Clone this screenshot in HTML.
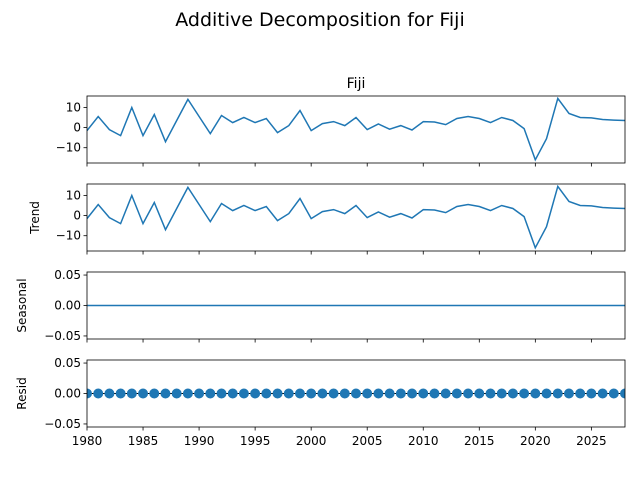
<!DOCTYPE html>
<html><head><meta charset="utf-8"><style>
body{margin:0;background:#fff}
svg text{font-family:"DejaVu Sans","Liberation Sans",sans-serif;fill:#000}
</style></head><body>
<svg id="c" width="640" height="480" xmlns="http://www.w3.org/2000/svg">
<text x="320" y="26" font-size="19" text-anchor="middle">Additive Decomposition for Fiji</text>
<text x="356" y="88" font-size="14" text-anchor="middle">Fiji</text>
</svg>
<script>
const years=[];for(let y=1980;y<=2028;y++)years.push(y);
const observed=[-1.5,5.5,-1,-4,10,-4,6.5,-7,3.5,14,5.5,-3,6,2.5,5,2.5,4.5,-2.5,1,8.5,-1.5,2,3,1,5,-1,1.8,-0.8,1,-1.2,3,2.8,1.5,4.5,5.5,4.5,2.5,5,3.5,-0.5,-16,-5.5,14.5,7,5,4.8,4,3.7,3.5];
const trend=observed.slice();
const seasonal=years.map(()=>0);
const resid=years.map(()=>0);
const xTicks=[1980,1985,1990,1995,2000,2005,2010,2015,2020,2025];
const bigTicks=[10,0,-10];
const smallTicks=[0.05,0,-0.05];
const svg=document.getElementById('c');const NS='http://www.w3.org/2000/svg';
const L=87,R=625,X0=1980,X1=2028;
const sx=v=>L+(v-X0)/(X1-X0)*(R-L);
function mk(t,a,p){const e=document.createElementNS(NS,t);for(const k in a)e.setAttribute(k,a[k]);(p||svg).appendChild(e);return e;}
const panels=[
 {name:'observed',top:96,lo:-17.6,hi:15.7,data:observed,ticks:bigTicks,fmt:v=>v<0?'\u2212'+(-v):String(v),label:null,lx:35},
 {name:'trend',top:184,lo:-17.6,hi:15.7,data:trend,ticks:bigTicks,fmt:v=>v<0?'\u2212'+(-v):String(v),label:'Trend',lx:35},
 {name:'seasonal',top:272,lo:-0.055,hi:0.055,data:seasonal,ticks:smallTicks,fmt:v=>v<0?'\u2212'+(-v).toFixed(2):v.toFixed(2),label:'Seasonal',lx:22},
 {name:'resid',top:360,lo:-0.055,hi:0.055,data:resid,ticks:smallTicks,fmt:v=>v<0?'\u2212'+(-v).toFixed(2):v.toFixed(2),label:'Resid',dots:true,lx:22}
];
const H=67;
panels.forEach((p,pi)=>{
 const g=mk('g',{});
 
 
 const sy=v=>p.top+H-(v-p.lo)/(p.hi-p.lo)*H;
 const clip=mk('clipPath',{id:'cl'+pi},g);mk('rect',{x:L,y:p.top,width:R-L,height:H},clip);
 if(p.dots){
  const z=mk('line',{x1:L,x2:R,y1:sy(0),y2:sy(0),stroke:'#000','stroke-width':1,'clip-path':'url(#cl'+pi+')'},g);
  
  
  years.forEach((y,i)=>{const c=mk('circle',{cx:sx(y),cy:sy(p.data[i]),r:5,fill:'#1f77b4','clip-path':'url(#cl'+pi+')'},g);
   
   });
 }else{
  const d=years.map((y,i)=>(i?'L':'M')+sx(y).toFixed(1)+','+sy(p.data[i]).toFixed(1)).join('');
  const ln=mk('path',{d:d,fill:'none',stroke:'#1f77b4','stroke-width':1.5,'clip-path':'url(#cl'+pi+')'},g);
  
  
 }
 const fr=mk('rect',{x:L,y:p.top,width:R-L,height:H,fill:'none',stroke:'#000','stroke-width':0.8},g);
 
 
 p.ticks.forEach(t=>{const y=sy(t);mk('line',{x1:L-3.5,x2:L,y1:y,y2:y,stroke:'#000','stroke-width':0.8},g);
  const tx=mk('text',{x:L-6,y:y+4,'font-size':12,'text-anchor':'end'},g);tx.textContent=p.fmt(t);
  
  });
 xTicks.forEach(t=>{mk('line',{x1:sx(t),x2:sx(t),y1:p.top+H,y2:p.top+H+3.5,stroke:'#000','stroke-width':0.8},g);
  if(pi===3){const tx=mk('text',{x:sx(t),y:p.top+H+18,'font-size':12,'text-anchor':'middle'},g);tx.textContent=t;
   
   }});
 if(p.label){const cy=p.top+H/2;const tx=mk('text',{x:0,y:0,'font-size':12,'text-anchor':'middle',transform:'translate('+(p.lx+4)+','+cy+') rotate(-90)'},g);tx.textContent=p.label;
  
  }
});
</script>
</body></html>
